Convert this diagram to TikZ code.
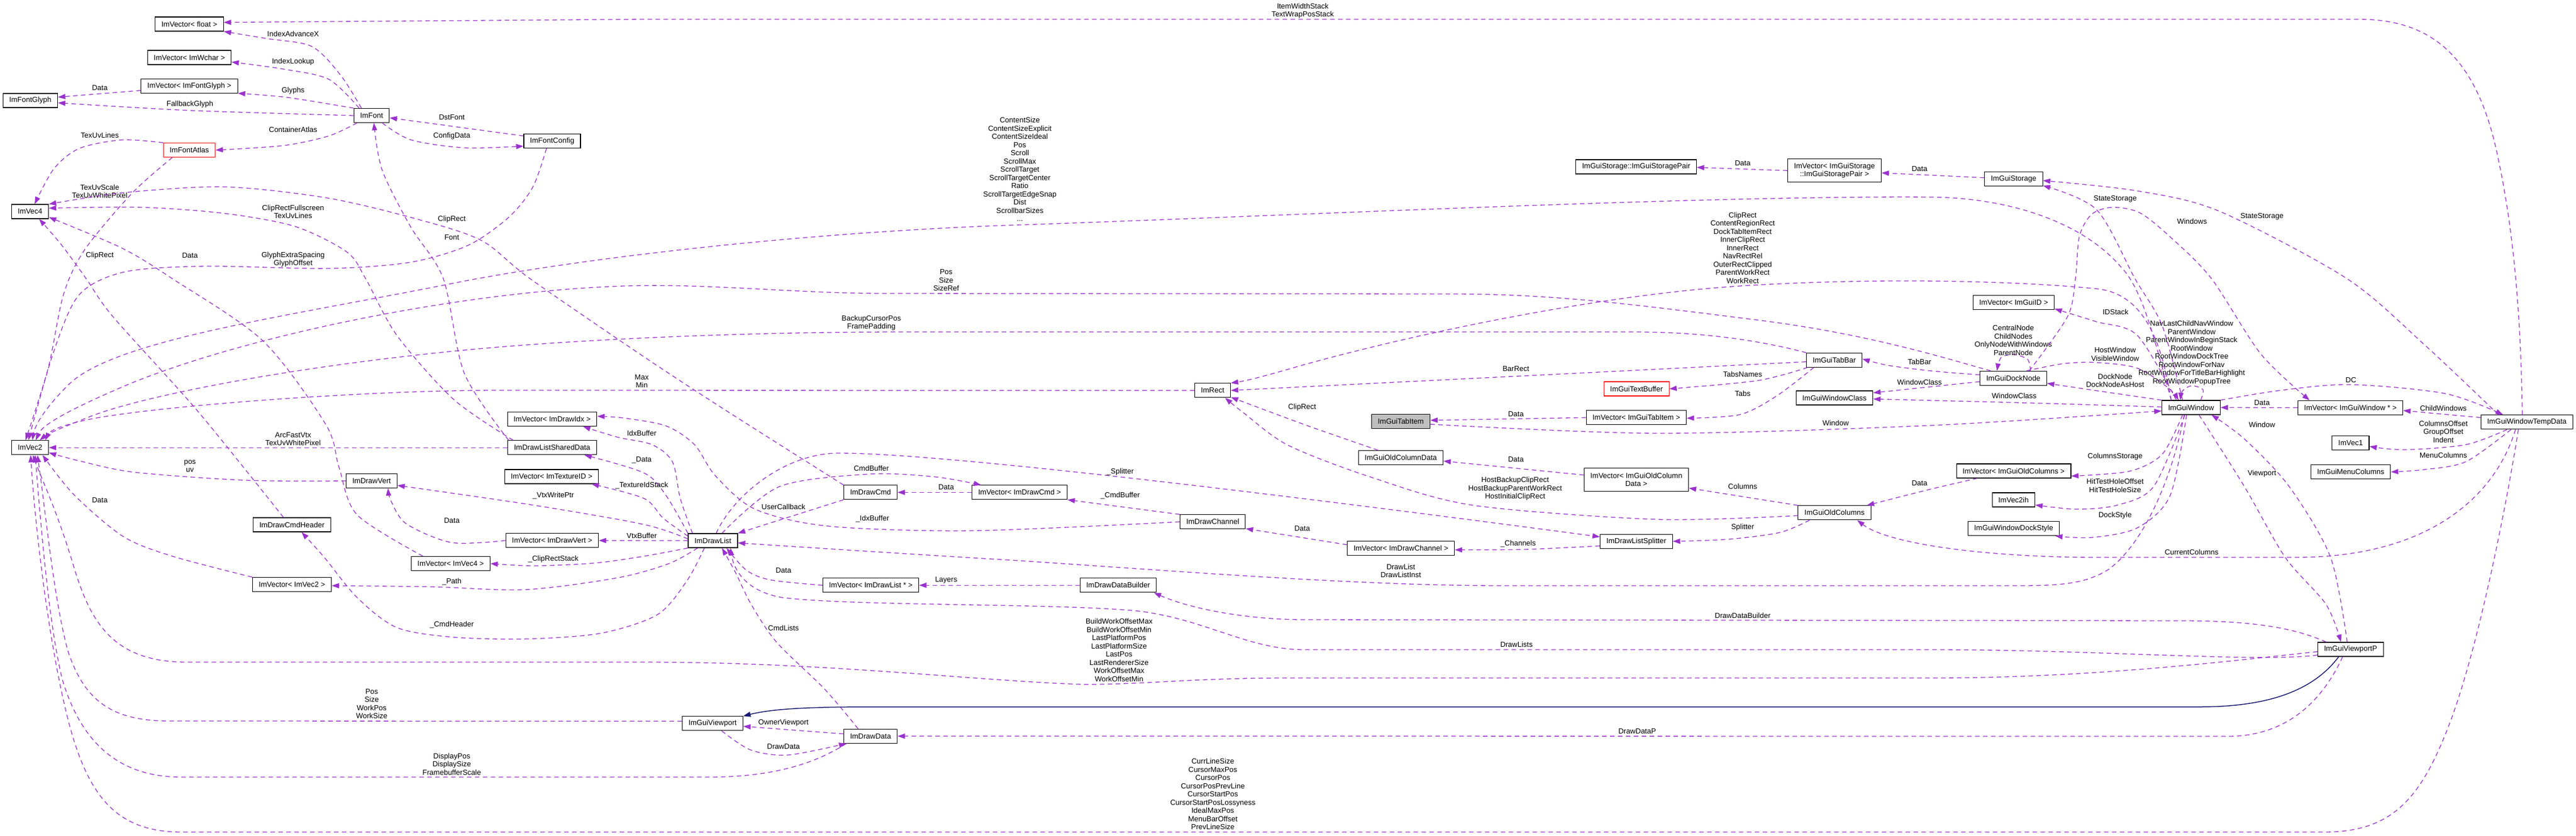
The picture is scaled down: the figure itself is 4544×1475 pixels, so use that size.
\documentclass[tikz,border=0pt]{standalone}
\usepackage{fontspec}
\setmainfont{Liberation Sans}
\usetikzlibrary{arrows.meta}
\definecolor{usecol}{HTML}{9A32CD}
\definecolor{inhcol}{HTML}{191970}
\newcommand{\dgfont}{\fontsize{13pt}{14.5pt}\selectfont}

\begin{document}
\begin{tikzpicture}[x=1pt, y=-1pt,
   cls/.style={draw=black, line width=1.1pt, fill=white, font=\dgfont, inner xsep=11pt, inner ysep=0pt, minimum height=25pt, align=center},
   trunc/.style={cls, draw=red},
   focus/.style={cls, fill=gray!50},
   tall/.style={minimum height=41pt},
   uses/.style={draw=usecol, line width=1.3pt, dash pattern=on 8pt off 6pt, -{Triangle[length=13pt,width=9pt]}},
   inherits/.style={draw=inhcol, line width=1.5pt, -{Triangle[length=13pt,width=9pt]}},
   lbl/.style={font=\dgfont, align=center, inner sep=0pt}]
\useasboundingbox (0,0) rectangle (4544,1475);
\fill[white] (0,0) rectangle (4544,1475);

\node[cls] (fvec) at (334,42.5) {ImVector< float >};
\node[cls] (wvec) at (334,101.5) {ImVector< ImWchar >};
\node[cls] (gvec) at (334,151.7) {ImVector< ImFontGlyph >};
\node[cls] (glyph) at (53.5,177.5) {ImFontGlyph};
\node[cls] (font) at (655.5,204) {ImFont};
\node[cls] (fconf) at (974,249) {ImFontConfig};
\node[trunc] (atlas) at (334,265) {ImFontAtlas};
\node[cls] (vfour) at (53,373.5) {ImVec4};
\node[cls] (vtwo) at (53,790.3) {ImVec2};
\node[cls] (idxvec) at (974,740) {ImVector< ImDrawIdx >};
\node[cls] (shared) at (974,790.3) {ImDrawListSharedData};
\node[cls] (texvec) at (973,841.5) {ImVector< ImTextureID >};
\node[cls] (vert) at (655.5,849) {ImDrawVert};
\node[cls] (cmdhdr) at (515,926.5) {ImDrawCmdHeader};
\node[cls] (vertvec) at (974,954.3) {ImVector< ImDrawVert >};
\node[cls] (vfourvec) at (795,995) {ImVector< ImVec4 >};
\node[cls] (vtwovec) at (515,1032) {ImVector< ImVec2 >};
\node[cls] (rect) at (2139,689.3) {ImRect};
\node[cls] (cmd) at (1535.6,869.3) {ImDrawCmd};
\node[cls] (cmdvec) at (1798.5,869.3) {ImVector< ImDrawCmd >};
\node[cls] (channel) at (2139.3,921.3) {ImDrawChannel};
\node[cls] (dlist) at (1257.5,954.5) {ImDrawList};
\node[cls] (dlvec) at (1536,1033.3) {ImVector< ImDrawList * >};
\node[cls] (builder) at (1972.4,1033.3) {ImDrawDataBuilder};
\node[cls] (vport) at (1257,1277.3) {ImGuiViewport};
\node[cls] (ddata) at (1535.6,1299.7) {ImDrawData};
\node[cls] (pair) at (2886.2,294.5) {ImGuiStorage::ImGuiStoragePair};
\node[cls,tall] (pairvec) at (3236,301.2) {ImVector< ImGuiStorage\\::ImGuiStoragePair >};
\node[cls] (tabbar) at (3235.6,635.7) {ImGuiTabBar};
\node[trunc] (textbuf) at (2886.6,686.5) {ImGuiTextBuffer};
\node[cls] (wclass) at (3236,702.5) {ImGuiWindowClass};
\node[focus] (tabitem) at (2471,744) {ImGuiTabItem};
\node[cls] (tabvec) at (2886.4,737.3) {ImVector< ImGuiTabItem >};
\node[cls] (coldata) at (2471,808) {ImGuiOldColumnData};
\node[cls,tall] (coldatavec) at (2886.4,846.7) {ImVector< ImGuiOldColumn\\Data >};
\node[cls] (oldcols) at (3236,905.3) {ImGuiOldColumns};
\node[cls] (splitter) at (2886.4,955.8) {ImDrawListSplitter};
\node[cls] (chanvec) at (2471.2,967.8) {ImVector< ImDrawChannel >};
\node[cls] (storage) at (3552,315.8) {ImGuiStorage};
\node[cls] (idvec) at (3552,534.2) {ImVector< ImGuiID >};
\node[cls] (dock) at (3551.5,667.8) {ImGuiDockNode};
\node[cls] (win) at (3865,719.5) {ImGuiWindow};
\node[cls] (winvec) at (4146,719.8) {ImVector< ImGuiWindow * >};
\node[cls] (temp) at (4457.3,745.3) {ImGuiWindowTempData};
\node[cls] (vone) at (4146.3,782.2) {ImVec1};
\node[cls] (menucols) at (4146.6,833.2) {ImGuiMenuColumns};
\node[cls] (oldcolsvec) at (3552,831.5) {ImVector< ImGuiOldColumns >};
\node[cls] (vtwoih) at (3551.8,882.5) {ImVec2ih};
\node[cls] (dockstyle) at (3552,933.3) {ImGuiWindowDockStyle};
\node[cls] (vportp) at (4146.3,1146.5) {ImGuiViewportP};

\draw[uses] plot[smooth] coordinates {([xshift=-18pt]font.north) (601,133) (550,82) (470,68) (fvec.south east)} node[lbl] (lIdxAdv) at (517,60) {IndexAdvanceX};
\draw[uses] ([xshift=-8pt]temp.north) .. controls (4447,600) and (4440,420) .. (4400,250) .. controls (4360,90) and (4280,34) .. (4160,34) -- (1136,34) -- ([yshift=3pt]fvec.east) node[lbl] (lItemW) at (2298,19) {ItemWidthStack\\TextWrapPosStack};
\draw[uses] plot[smooth] coordinates {([xshift=-22pt]font.north) (580,140) (500,122) ([yshift=-8pt]wvec.east)} node[lbl] (lIdxLk) at (517,108.7) {IndexLookup};
\draw[uses] plot[smooth] coordinates {(font.north west) (507,172) (gvec.south east)} node[lbl] (lGlyphs) at (517,160) {Glyphs};
\draw[uses] ([yshift=-8pt]gvec.west) -- ([yshift=6pt]glyph.east) node[lbl] (lGData) at (176,154.7) {Data};
\draw[uses] plot[smooth] coordinates {(font.west) (335,195) ([yshift=-4pt]glyph.east)} node[lbl] (lFallback) at (335,183.7) {FallbackGlyph};
\draw[uses] ([yshift=9pt]fconf.west) -- ([yshift=-4pt]font.east) node[lbl] (lDst) at (797,206.7) {DstFont};
\draw[uses] plot[smooth] coordinates {([xshift=-13pt]font.south east) (725,247) (820,261) ([yshift=-9pt]fconf.west)} node[lbl] (lCfg) at (797,239.7) {ConfigData};
\draw[uses] plot[smooth] coordinates {([xshift=6pt]font.south west) (580,240) (500,257) (atlas.east)} node[lbl] (lCont) at (517,228.7) {ContainerAtlas};
\draw[uses] plot[smooth] coordinates {(atlas.north west) (215,247) (140,262) (95,298) ([xshift=8pt]vfour.north)} node[lbl] (lTexLines) at (176,238.7) {TexUvLines};
\draw[uses] plot[smooth] coordinates {([xshift=-30pt]atlas.south) (234,340) (150,440) (112,520) (85,650) ([xshift=-8pt]vtwo.north)} node[lbl] (lTexScale) at (176,338) {TexUvScale\\TexUvWhitePixel};
\draw[uses] plot[smooth] coordinates {([xshift=10pt]shared.north west) (800,705) (700,592) (645,492) (612,445) (521,400) (398,377) (250,366) ([yshift=6pt]vfour.east)} node[lbl] (lClipFull) at (517,374) {ClipRectFullscreen\\TexUvLines};
\draw[uses] plot[smooth] coordinates {([xshift=2pt]shared.north west) (819,659) (782,492) (724,400) (674,300) ([xshift=4pt]font.south)} node[lbl] (lFont) at (797,418.7) {Font};
\draw[uses] plot[smooth] coordinates {(cmd.north west) (1281,725) (1136,630) (935,492) (850,425) (740,388) (580,350) (398,330) (220,340) (vfour.north east)} node[lbl] (lCmdClip) at (797,386.7) {ClipRect};
\draw[uses] plot[smooth] coordinates {([xshift=-49pt]vfourvec.north) (630,909) (598,825) (575,750) (464,602) (304,492) (215,438) ([yshift=-10pt]vfour.east)} node[lbl] (lV4Data) at (335,451) {Data};
\draw[uses] plot[smooth] coordinates {([xshift=-15pt]cmdhdr.north) (348,725) (200,560) (152,492) (109,433) ([xshift=16pt]vfour.south)} node[lbl] (lHdrClip) at (176,451) {ClipRect};
\draw[uses] (shared.west) -- (vtwo.east) node[lbl] (lArc) at (517,775) {ArcFastVtx\\TexUvWhitePixel};
\draw[uses] plot[smooth] coordinates {(vert.west) (435,848) (239,834) (145,815) ([yshift=-9pt]vtwo.east)} node[lbl] (lPosUv) at (335,823) {pos\\uv};
\draw[uses] plot[smooth] coordinates {(vtwovec.north west) (304,982) (217,947) (130,873) ([xshift=22pt]vtwo.south)} node[lbl] (lV2Data) at (176,882.7) {Data};
\draw[uses] (rect.west) -- (880,689) .. controls (650,689) and (300,715) .. (170,738) .. controls (115,748) and (88,760) .. ([xshift=27pt]vtwo.north) node[lbl] (lMaxMin) at (1132,673) {Max\\Min};
\draw[uses] ([xshift=-35pt]win.north) .. controls (3800,600) and (3780,510) .. (3740,470) .. controls (3680,400) and (3560,350) .. (3408,348) .. controls (3000,345) and (2300,380) .. (1800,397) .. controls (1400,410) and (1000,460) .. (800,500) .. controls (500,560) and (200,600) .. (120,680) .. controls (80,720) and (62,750) .. ([xshift=4pt]vtwo.north) node[lbl] (lContent) at (1799,299) {ContentSize\\ContentSizeExplicit\\ContentSizeIdeal\\Pos\\Scroll\\ScrollMax\\ScrollTarget\\ScrollTargetCenter\\Ratio\\ScrollTargetEdgeSnap\\Dist\\ScrollbarSizes\\...};
\draw[uses] ([xshift=-40pt]dock.north) .. controls (3440,635) and (3300,590) .. (3100,565) .. controls (2900,540) and (2750,519) .. (2562,519) -- (1560,518) .. controls (1400,518) and (1250,500) .. (1100,505) .. controls (800,515) and (400,600) .. (200,690) .. controls (120,725) and (75,750) .. ([xshift=10pt]vtwo.north) node[lbl] (lDockPos) at (1669,495) {Pos\\Size\\SizeRef};
\draw[uses] (tabbar.north west) .. controls (3100,600) and (3000,586) .. (2880,586) -- (1600,586) .. controls (1300,586) and (1000,600) .. (800,620) .. controls (500,650) and (250,700) .. (160,735) .. controls (110,755) and (85,765) .. ([xshift=17pt]vtwo.north) node[lbl] (lBackup) at (1537,570) {BackupCursorPos\\FramePadding};
\draw[uses] ([yshift=4pt]vport.west) -- (300,1273) .. controls (200,1273) and (150,1240) .. (120,1150) .. controls (95,1060) and (80,900) .. ([xshift=13pt]vtwo.south) node[lbl] (lVpPos) at (655.7,1242.7) {Pos\\Size\\WorkPos\\WorkSize};
\draw[uses] ([xshift=5pt]ddata.south west) .. controls (1450,1340) and (1380,1372) .. (1250,1372) -- (320,1372) .. controls (200,1372) and (140,1300) .. (110,1200) .. controls (85,1100) and (70,900) .. ([xshift=9pt]vtwo.south) node[lbl] (lDisp) at (797,1349) {DisplayPos\\DisplaySize\\FramebufferScale};
\draw[uses] ([yshift=-4pt]vportp.west) .. controls (3950,1165) and (3700,1197) .. (3408,1197) -- (2272,1197) .. controls (2100,1197) and (2000,1210) .. (1900,1208) .. controls (1700,1200) and (1450,1169) .. (1136,1169) -- (330,1169) .. controls (200,1169) and (160,1100) .. (130,1000) .. controls (100,900) and (75,850) .. ([xshift=5pt]vtwo.south) node[lbl] (lBuild) at (1974,1148) {BuildWorkOffsetMax\\BuildWorkOffsetMin\\LastPlatformPos\\LastPlatformSize\\LastPos\\LastRendererSize\\WorkOffsetMax\\WorkOffsetMin};
\draw[uses] ([xshift=-15pt]temp.south) .. controls (4420,900) and (4370,1150) .. (4320,1280) .. controls (4270,1410) and (4220,1469) .. (4100,1469) -- (320,1469) .. controls (200,1469) and (150,1400) .. (115,1250) .. controls (80,1100) and (60,900) .. ([xshift=1pt]vtwo.south) node[lbl] (lCurr) at (2139.4,1402) {CurrLineSize\\CursorMaxPos\\CursorPos\\CursorPosPrevLine\\CursorStartPos\\CursorStartPosLossyness\\IdealMaxPos\\MenuBarOffset\\PrevLineSize};
\draw[uses] plot[smooth] coordinates {([xshift=-10pt]fconf.south) (940,330) (898,383) (826,433) (724,463) (580,474) (362,470) (220,480) (140,520) (95,620) ([xshift=-3pt]vtwo.north)} node[lbl] (lGlyphX) at (517,458) {GlyphExtraSpacing\\GlyphOffset};

\draw[uses] plot[smooth] coordinates {([xshift=8pt]dlist.north west) (1200,880) (1186,815) (1150,785) (1090,772) ([xshift=-25pt]idxvec.south east)} node[lbl] (lIdx) at (1132,764.7) {IdxBuffer};
\draw[uses] plot[smooth] coordinates {(channel.west) (1716,937) (1462,929) (1332,899) (1262,840) (1225,785) (1175,752) (1100,738) ([yshift=5pt]idxvec.east)} node[lbl] (lIdxCh) at (1539,916.3) {\_IdxBuffer};
\draw[uses] plot[smooth] coordinates {(dlist.north west) (1175,875) (1136,835) ([xshift=-22pt]shared.south east)} node[lbl] (lData) at (1132,812) {\_Data};
\draw[uses] plot[smooth] coordinates {([yshift=8pt]dlist.west) (1170,915) (1136,880) ([xshift=-13pt]texvec.south east)} node[lbl] (lTexId) at (1132,856.7) {\_TextureIdStack};
\draw[uses] plot[smooth] coordinates {([yshift=3pt]dlist.west) (1136,926) (942,892) ([yshift=-8pt]vert.east)} node[lbl] (lVtxW) at (976,874.7) {\_VtxWritePtr};
\draw[uses] (dlist.west) -- (vertvec.east) node[lbl] (lVtxB) at (1132,946) {VtxBuffer};
\draw[uses] plot[smooth] coordinates {(vertvec.west) (797,958) (717,925) (690,885) ([xshift=29pt]vert.south)} node[lbl] (lVData) at (797,918.7) {Data};
\draw[uses] plot[smooth] coordinates {(dlist.south west) (1136,982) (1050,994) (942,999) (vfourvec.east)} node[lbl] (lClipSt) at (976,987) {\_ClipRectStack};
\draw[uses] plot[smooth] coordinates {([xshift=-27pt]dlist.south) (1180,995) (1090,1020) (927,1041) (761,1036) ([yshift=-2pt]vtwovec.east)} node[lbl] (lPath) at (797,1027.3) {\_Path};
\draw[uses] plot[smooth] coordinates {([xshift=-15pt]dlist.south) (1212,1025) (1160,1085) (1060,1118) (930,1128) (800,1125) (700,1108) (630,1055) (572,984) ([xshift=17pt]cmdhdr.south)} node[lbl] (lHdr) at (797,1103.3) {\_CmdHeader};
\draw[uses] plot[smooth] coordinates {([xshift=16pt]dlist.north) (1375,859) (1534,837) (1650,842) ([xshift=-68pt]cmdvec.north)} node[lbl] (lCmdBuf) at (1537,827) {CmdBuffer};
\draw[uses] (cmdvec.west) -- (cmd.east) node[lbl] (lCData) at (1669,860.3) {Data};
\draw[uses] (cmd.south west) -- (dlist.north east) node[lbl] (lUser) at (1382,895.3) {UserCallback};
\draw[uses] (channel.north west) -- (cmdvec.south east) node[lbl] (lCmdBufCh) at (1976,874.7) {\_CmdBuffer};
\draw[uses] ([xshift=6pt]dlist.north) .. controls (1290,880) and (1380,800) .. (1480,800) .. controls (1700,800) and (2500,905) .. ([yshift=8pt]splitter.west) node[lbl] (lSplit) at (1976,832.7) {\_Splitter};
\draw[uses] ([yshift=6pt]chanvec.west) -- ([yshift=-12pt]channel.east) node[lbl] (lChData) at (2297,932.7) {Data};
\draw[uses] plot[smooth] coordinates {([yshift=-8pt]splitter.west) (2690,970) ([yshift=-3pt]chanvec.east)} node[lbl] (lChan) at (2678,959.7) {\_Channels};
\draw[uses] plot[smooth] coordinates {([xshift=-44pt]oldcols.south) (3140,940) (3050,952) (splitter.east)} node[lbl] (lSplitCol) at (3074,930.7) {Splitter};
\draw[uses] plot[smooth] coordinates {(dlvec.west) (1360,1024) (1317,1007) ([xshift=24pt]dlist.south)} node[lbl] (lDlData) at (1382,1007.3) {Data};
\draw[uses] plot[smooth] coordinates {([xshift=-22pt]ddata.north) (1455,1217) (1370,1134) (1325,1067) (1297,1010) ([xshift=16pt]dlist.south)} node[lbl] (lCmdLists) at (1382,1108.7) {CmdLists};
\draw[uses] ([yshift=-10pt]vportp.west) .. controls (3990,1170) and (3700,1147) .. (3408,1147) -- (2300,1147) .. controls (2200,1147) and (2120,1090) .. (2000,1078) .. controls (1850,1065) and (1500,1070) .. (1380,1055) .. controls (1320,1045) and (1295,1010) .. ([xshift=31pt]dlist.south) node[lbl] (lDLists) at (2675,1138.3) {DrawLists};
\draw[uses] ([xshift=-12pt]win.south) .. controls (3830,850) and (3780,960) .. (3720,1005) .. controls (3680,1030) and (3640,1034) .. (3560,1034) -- (2650,1034) .. controls (2400,1034) and (2100,1010) .. (1800,990) .. controls (1600,978) and (1400,965) .. ([yshift=-4pt]dlist.east) node[lbl] (lDrawList) at (2471,1008) {DrawList\\DrawListInst};
\draw[uses] (builder.west) -- (dlvec.east) node[lbl] (lLayers) at (1669,1024.7) {Layers};
\draw[uses] ([xshift=-43pt]vportp.north) .. controls (4050,1110) and (3980,1096) .. (3850,1096) -- (2300,1094) .. controls (2200,1094) and (2100,1075) .. ([xshift=-5pt]builder.south east) node[lbl] (lBuilder) at (3074,1087.3) {DrawDataBuilder};
\draw[uses] ([xshift=-14pt]vportp.south) .. controls (4100,1230) and (4040,1300) .. (3930,1300) -- (ddata.east) node[lbl] (lDDP) at (2888,1290.7) {DrawDataP};
\draw[uses] ([yshift=4pt]ddata.west) -- ([yshift=-5pt]vport.east) node[lbl] (lOwner) at (1382,1276) {OwnerViewport};
\draw[uses] plot[smooth] coordinates {([xshift=16pt]vport.south) (1324,1324) (1390,1333) ([xshift=5pt]ddata.south west)} node[lbl] (lDrawData) at (1382,1318.3) {DrawData};
\draw[inherits] ([xshift=-21pt]vportp.south) .. controls (4080,1220) and (4000,1248) .. (3880,1248) -- (1540,1248) .. controls (1420,1248) and (1360,1252) .. (vport.north east);
\draw[uses] plot[smooth] coordinates {([xshift=-6pt]vportp.north) (4111,984) (4038,859) (3959,775) ([xshift=-16pt]win.south east)} node[lbl] (lVpWin) at (3990,750.3) {Window};
\draw[uses] plot[smooth] coordinates {([xshift=14pt]win.south) (3959,859) (4031,984) (4103,1067) ([xshift=-17pt]vportp.north)} node[lbl] (lViewport) at (3990,836.3) {Viewport};

\draw[uses] plot[smooth] coordinates {([yshift=-5pt]tabitem.east) (2924,765) (3408,751) ([yshift=-6pt]win.west)} node[lbl] (lTabWin) at (3238,747.3) {Window};
\draw[uses] (tabvec.west) -- ([yshift=2pt]tabitem.east) node[lbl] (lTabData) at (2674,730.7) {Data};
\draw[uses] plot[smooth] coordinates {([xshift=-36pt]tabbar.south) (3134,699) (3069,732) ([yshift=-1pt]tabvec.east)} node[lbl] (lTabs) at (3074,695.3) {Tabs};
\draw[uses] plot[smooth] coordinates {([xshift=-47pt]tabbar.south) (3100,672) (textbuf.east)} node[lbl] (lTabNames) at (3074,660.7) {TabsNames};
\draw[uses] plot[smooth] coordinates {([yshift=-3pt]tabbar.west) (2700,663) (rect.east)} node[lbl] (lBarRect) at (2674,651.3) {BarRect};
\draw[uses] ([xshift=-35pt]win.north) .. controls (3815,620) and (3790,520) .. (3700,510) .. controls (3550,495) and (3300,490) .. (3069,505) .. controls (2800,522) and (2450,600) .. (2272,652) .. controls (2230,664) and (2200,672) .. (rect.north east) node[lbl] (lWinClip) at (3074,437.7) {ClipRect\\ContentRegionRect\\DockTabItemRect\\InnerClipRect\\InnerRect\\NavRectRel\\OuterRectClipped\\ParentWorkRect\\WorkRect};
\draw[uses] plot[smooth] coordinates {([xshift=-40pt]coldata.north) (2330,760) (2272,739) ([yshift=-12pt]rect.east)} node[lbl] (lColClip) at (2297,718.7) {ClipRect};
\draw[uses] plot[smooth] coordinates {([yshift=-5pt]oldcols.west) (2924,917) (2598,892) (2417,842) (2272,786) (2195,730) ([xshift=22pt]rect.south)} node[lbl] (lHost) at (2672.6,863) {HostBackupClipRect\\HostBackupParentWorkRect\\HostInitialClipRect};
\draw[uses] plot[smooth] coordinates {([yshift=6pt]dock.west) (3408,655) (3330,645) ([yshift=2pt]tabbar.east)} node[lbl] (lTabBar) at (3386,638.7) {TabBar};
\draw[uses] ([yshift=-6pt]dock.west) -- ([yshift=9pt]wclass.east) node[lbl] (lDockCls) at (3386,674.7) {WindowClass};
\draw[uses] plot[smooth] coordinates {([yshift=1pt]win.west) (3600,712) (3408,707) ([yshift=-2pt]wclass.east)} node[lbl] (lWinCls) at (3553,699.3) {WindowClass};
\draw[uses] plot[smooth] coordinates {(win.north west) (3700,690) ([yshift=-9pt]dock.east)} node[lbl] (lDockN) at (3731,672) {DockNode\\DockNodeAsHost};
\draw[uses] plot[smooth] coordinates {([xshift=23pt]dock.north) (3640,642) (3698,640) (3770,650) (3825,685) ([xshift=-22pt]win.north)} node[lbl] (lHostWin) at (3731,625.5) {HostWindow\\VisibleWindow};
\draw[uses] plot[smooth] coordinates {([xshift=30pt]dock.north) (3577,635) (3553,626) (3530,631) ([xshift=-29pt]dock.north)} node[lbl] (lDockSelf) at (3551.4,600.7) {CentralNode\\ChildNodes\\OnlyNodeWithWindows\\ParentNode};
\draw[uses] plot[smooth] coordinates {([xshift=17pt]win.north) (3886,688) (3866,681) (3850,690) ([xshift=-19pt]win.north)} node[lbl] (lWinSelf) at (3866,623) {NavLastChildNavWindow\\ParentWindow\\ParentWindowInBeginStack\\RootWindow\\RootWindowDockTree\\RootWindowForNav\\RootWindowForTitleBarHighlight\\RootWindowPopupTree};
\draw[uses] plot[smooth] coordinates {([xshift=-26pt]win.north) (3770,592) (3698,568) ([yshift=-11pt]idvec.east)} node[lbl] (lIDStack) at (3731.8,551.3) {IDStack};
\draw[uses] plot[smooth] coordinates {([xshift=-15pt]win.north) (3814,575) (3766,492) (3698,370) ([yshift=-12pt]storage.east)} node[lbl] (lState) at (3731,351.7) {StateStorage};
\draw[uses] plot[smooth] coordinates {([xshift=28pt]dock.north) (3647,559) (3661,492) (3668,417) (3690,378) (3727,366) (3775,376) (3830,420) (3901,492) (3988,625) ([xshift=-72pt]winvec.north)} node[lbl] (lWindows) at (3866.6,391) {Windows};
\draw[uses] (winvec.west) -- (win.east) node[lbl] (lWvData) at (3990,711.3) {Data};
\draw[uses] ([yshift=8pt]temp.west) -- ([yshift=-5pt]winvec.east) node[lbl] (lChild) at (4310,720.7) {ChildWindows};
\draw[uses] plot[smooth] coordinates {(win.north east) (4024,689) (4147,679) (4314,695) ([xshift=-42pt]temp.north)} node[lbl] (lDC) at (4147,671.3) {DC};
\draw[uses] plot[smooth] coordinates {([xshift=-35pt]temp.south) (4350,785) (4241,794) ([yshift=-6pt]vone.east)} node[lbl] (lColOff) at (4310,762) {ColumnsOffset\\GroupOffset\\Indent};
\draw[uses] plot[smooth] coordinates {([xshift=-28pt]temp.south) (4350,815) (4277,829) (menucols.east)} node[lbl] (lMenu) at (4310,803.7) {MenuColumns};
\draw[uses] ([xshift=-20pt]temp.south) .. controls (4400,880) and (4280,984) .. (4050,984) -- (3700,984) .. controls (3500,984) and (3330,960) .. ([xshift=40pt]oldcols.south) node[lbl] (lCurCols) at (3866,975.3) {CurrentColumns};
\draw[uses] plot[smooth] coordinates {([xshift=-50pt]temp.north) (4277,609) (4140,492) (3915,373) (3770,337) ([yshift=-3pt]storage.east)} node[lbl] (lStateTmp) at (3990,382.7) {StateStorage};
\draw[uses] plot[smooth] coordinates {([xshift=-15pt]win.south) (3814,802) (3756,832) ([yshift=-9pt]oldcolsvec.east)} node[lbl] (lColSt) at (3731,806.3) {ColumnsStorage};
\draw[uses] plot[smooth] coordinates {([xshift=-64pt]oldcolsvec.south) (3408,863) ([xshift=57pt]oldcols.north)} node[lbl] (lOcData) at (3386,852.7) {Data};
\draw[uses] (oldcols.north west) -- ([yshift=-15pt]coldatavec.east) node[lbl] (lColumns) at (3074,858.7) {Columns};
\draw[uses] ([yshift=8pt]coldatavec.west) -- ([yshift=-6pt]coldata.east) node[lbl] (lCdData) at (2674,810.7) {Data};
\draw[uses] plot[smooth] coordinates {([xshift=-11pt]win.south) (3799,859) (3734,892) (3662,899) ([yshift=-9pt]vtwoih.east)} node[lbl] (lHit) at (3731,857.3) {HitTestHoleOffset\\HitTestHoleSize};
\draw[uses] plot[smooth] coordinates {([xshift=-8pt]win.south) (3828,875) (3770,932) (3690,949) ([xshift=-8pt]dockstyle.south east)} node[lbl] (lDockSt) at (3731,910.3) {DockStyle};
\draw[uses] (pairvec.west) -- ([yshift=-1pt]pair.east) node[lbl] (lPairData) at (3074,288.3) {Data};
\draw[uses] ([yshift=2pt]storage.west) -- ([yshift=-4pt]pairvec.east) node[lbl] (lStData) at (3386,298.3) {Data};
\end{tikzpicture}
\end{document}
